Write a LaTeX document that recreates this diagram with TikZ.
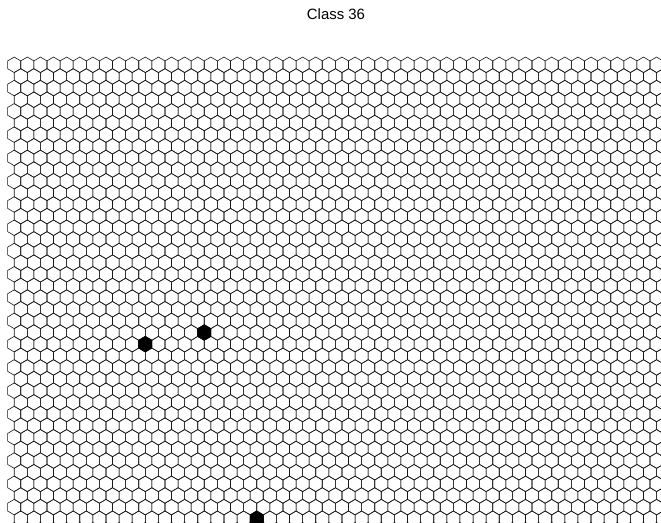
\documentclass[tikz,border=0pt]{standalone}
\usepackage{fontspec}
\setmainfont{Liberation Sans}
\tikzset{
  gridline/.style={draw=black!90, line width=0.45pt},
  hitcell/.style={fill=black, draw=black, line width=0.45pt},
  figtitle/.style={font=\fontsize{11.2}{13}\selectfont, text=black}
}
% one cell, pointy top, drawn round the current point
\newcommand{\hexshape}{+(0,-7.76) -- +(6.555,-3.88) -- +(6.555,3.88) -- +(0,7.76) -- +(-6.555,3.88) -- +(-6.555,-3.88) -- cycle}

\begin{document}
\begin{tikzpicture}[x=0.75pt, y=-0.75pt]
\useasboundingbox (0,0) rectangle (661,522);
\node[figtitle] (title) at (336,14) {Class 36};
\begin{scope}
\clip (0,0) rectangle (661,522);
\foreach \r in {0,...,40} {
  \pgfmathsetmacro\off{mod(\r,2)*6.555}
  \foreach \c in {0,...,50} {
    \draw[gridline] ({14.2+\off+\c*13.11},{64.8+\r*11.64}) \hexshape;
  }
}
% winning cells
\foreach \r/\c in {24/10,23/14,39/18} {
  \pgfmathsetmacro\off{mod(\r,2)*6.555}
  \filldraw[hitcell] ({14.2+\off+\c*13.11},{64.8+\r*11.64}) \hexshape;
}
\end{scope}
\end{tikzpicture}
\end{document}
